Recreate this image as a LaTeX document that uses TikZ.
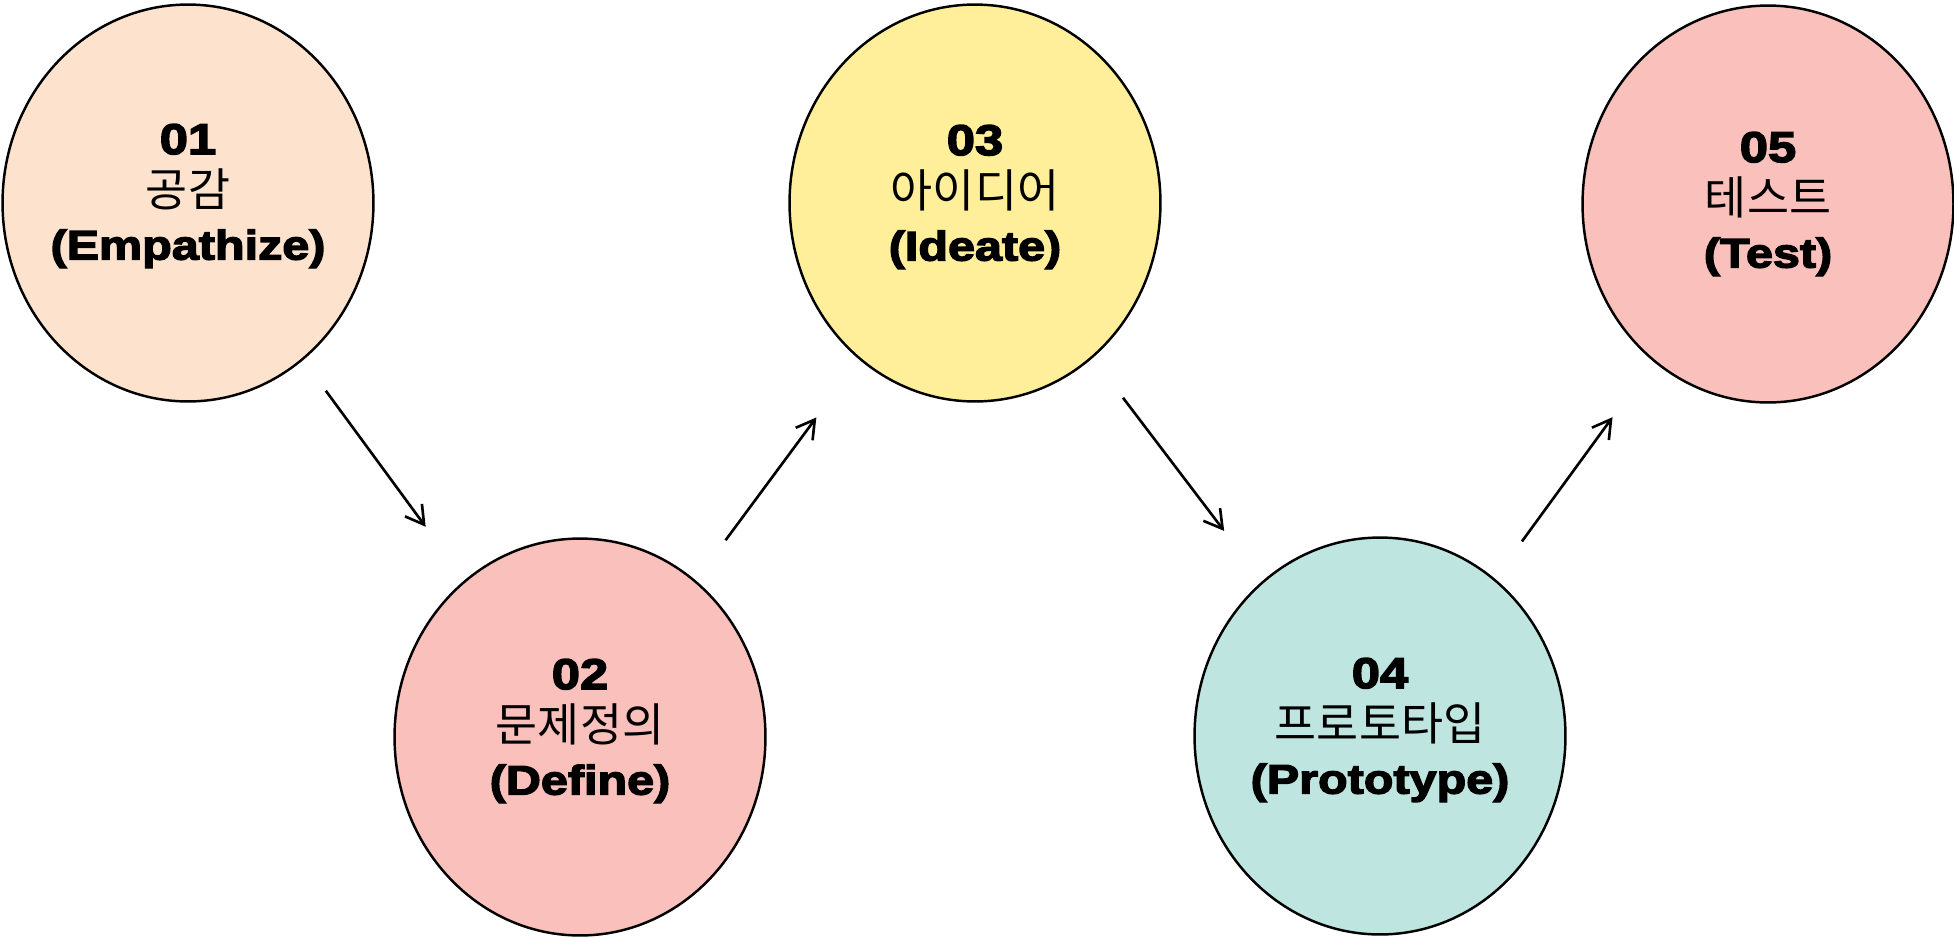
\documentclass[tikz,border=0pt]{standalone}
\usepackage{fontspec}
\setmainfont{Liberation Sans}
\newfontfamily\heavyfont{Liberation Sans Bold}[FakeBold=3.4,FakeStretch=1.18]
\newfontfamily\krfont{Noto Sans CJK KR}
\usetikzlibrary{arrows.meta,shapes.geometric}

\definecolor{peach}{HTML}{FDE3CE}
\definecolor{rose}{HTML}{F9C0BC}
\definecolor{butter}{HTML}{FFEF9A}
\definecolor{mint}{HTML}{BEE5E0}

\newcommand\phasenum{\heavyfont\fontsize{24.5}{30}\selectfont}
\newcommand\phasekr{\krfont\fontsize{26}{30}\selectfont}
\newcommand\phaseen{\heavyfont\fontsize{23.4}{30}\selectfont}

\tikzset{
  stage/.style={ellipse,draw,line width=1.4pt,minimum width=7.42cm,
    minimum height=7.94cm,inner sep=0pt},
  stagetext/.style={align=center,inner sep=0pt,
    font=\fontsize{22.5}{30}\selectfont},
  flow/.style={-{Straight Barb[length=0.36cm,width=0.42cm]},line width=1.5pt}
}

\begin{document}
\begin{tikzpicture}[x=0.02cm,y=-0.02cm]
  \useasboundingbox (0,0) rectangle (1954,937);
  \node[stage,fill=peach]  (e1) at (188,203) {};
  \node[stage,fill=rose]   (e2) at (580,737) {};
  \node[stage,fill=butter] (e3) at (975,203) {};
  \node[stage,fill=mint]   (e4) at (1380,736) {};
  \node[stage,fill=rose]   (e5) at (1768,204) {};
  \node[stagetext] (t1) at ([yshift=0.14cm]e1) {\phasenum 01\\\phasekr 공감\\\phaseen (Empathize)};
  \node[stagetext] (t2) at ([yshift=0.12cm]e2) {\phasenum 02\\\phasekr 문제정의\\\phaseen (Define)};
  \node[stagetext] (t3) at ([yshift=0.12cm]e3) {\phasenum 03\\\phasekr 아이디어\\\phaseen (Ideate)};
  \node[stagetext] (t4) at ([yshift=0.12cm]e4) {\phasenum 04\\\phasekr 프로토타입\\\phaseen (Prototype)};
  \node[stagetext] (t5) at (e5) {\phasenum 05\\\phasekr 테스트\\\phaseen (Test)};
  \draw[flow,shorten <=0.76cm,shorten >=1.32cm] (e1) -- (e2);
  \draw[flow,shorten <=1cm,shorten >=1.44cm] (e2) -- (e3);
  \draw[flow,shorten <=1cm,shorten >=1.26cm] (e3) -- (e4);
  \draw[flow,shorten <=0.92cm,shorten >=1.38cm] (e4) -- (e5);
\end{tikzpicture}
\end{document}
